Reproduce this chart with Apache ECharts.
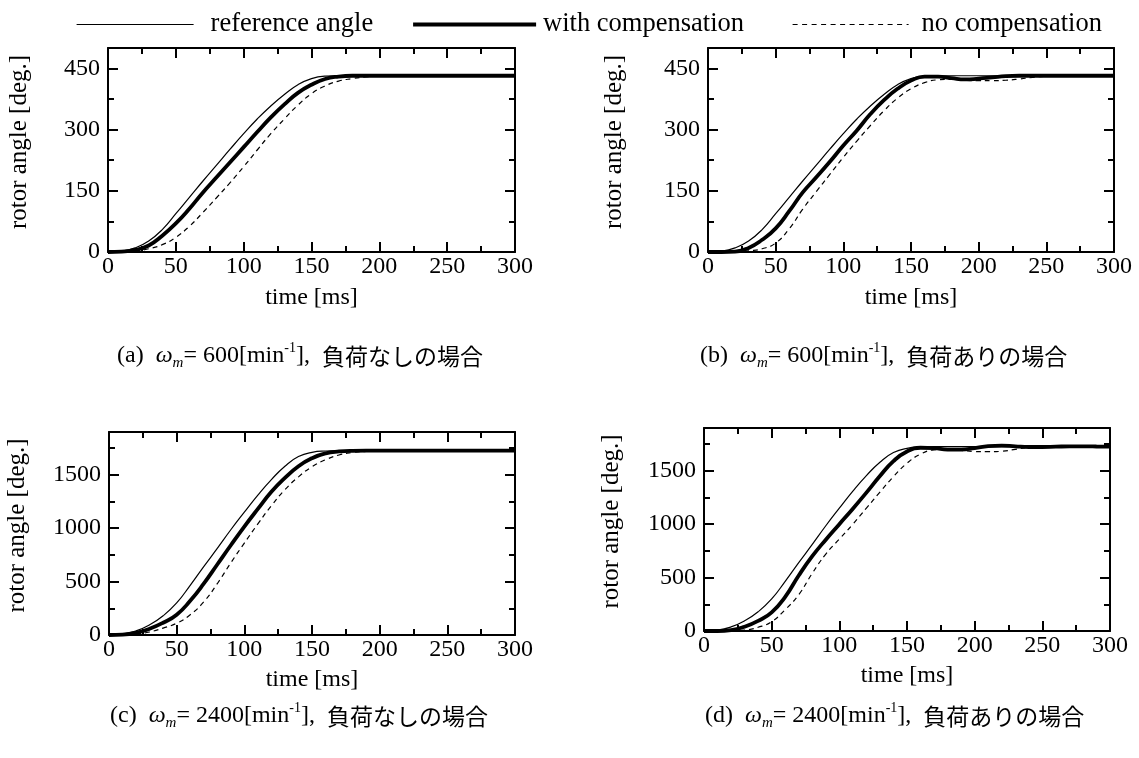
<!DOCTYPE html>
<html>
<head>
<meta charset="utf-8">
<script src="https://cdn.jsdelivr.net/npm/echarts@6/dist/echarts.min.js"></script>
<style>
  html, body { margin: 0; padding: 0; background: #fff; }
  #chart { width: 1139px; height: 758px; }
</style>
</head>
<body>
<div id="chart"></div>
<script>
// time axis (ms)
const timeMs = [0, 10, 20, 30, 40, 50, 60, 70, 80, 90, 100, 110, 120, 130, 140, 150,
  160, 170, 180, 190, 200, 210, 220, 230, 240, 250, 260, 270, 280, 290, 300];

// 600 min^-1 : reference angle (same in a and b)
const ref600 = [0, 2, 10, 27, 55, 94, 134, 174, 213, 252, 290, 326, 358, 386, 410, 425,
  431, 432, 432, 432, 432, 432, 432, 432, 432, 432, 432, 432, 432, 432, 432];
// (a) no load
const with600 = [0, 1, 5, 16, 40, 70, 106, 146, 183, 220, 257, 294, 330, 362, 390, 410,
  424, 430, 432, 432, 432, 432, 432, 432, 432, 432, 432, 432, 432, 432, 432];
const no600 = [0, 0, 2, 8, 18, 36, 63, 97, 133, 170, 209, 250, 290, 326, 360, 388,
  407, 419, 425, 429, 431, 432, 432, 432, 432, 432, 432, 432, 432, 432, 432];
// (b) with load
const with600L = [0, 0, 1, 10, 30, 58, 100, 146, 183, 221, 261, 298, 338, 372, 400, 420,
  430, 430, 426, 423, 425, 428, 431, 432, 432, 432, 432, 432, 432, 432, 432];
const no600L = [0, 0, 0, 3, 8, 22, 57, 105, 148, 190, 232, 272, 310, 346, 377, 400,
  415, 422, 423, 421, 420, 420, 421, 424, 428, 431, 432, 432, 432, 432, 432];

// 2400 min^-1 : reference angle (same in c and d)
const ref2400 = [0, 8, 38, 95, 180, 300, 465, 640, 810, 985, 1150, 1310, 1455, 1580, 1670, 1710,
  1722, 1725, 1725, 1725, 1725, 1725, 1725, 1725, 1725, 1725, 1725, 1725, 1725, 1725, 1725];
// (c) no load
const with2400 = [0, 3, 20, 58, 115, 190, 320, 480, 660, 840, 1015, 1180, 1340, 1470, 1580, 1655,
  1700, 1718, 1724, 1725, 1725, 1725, 1725, 1725, 1725, 1725, 1725, 1725, 1725, 1725, 1725];
const no2400 = [0, 1, 8, 28, 65, 110, 190, 310, 480, 675, 860, 1040, 1210, 1360, 1480, 1575,
  1640, 1685, 1708, 1718, 1722, 1725, 1725, 1725, 1725, 1725, 1725, 1725, 1725, 1725, 1725];
// (d) with load
const with2400L = [0, 0, 8, 40, 95, 175, 320, 520, 700, 855, 1000, 1145, 1295, 1450, 1590, 1680,
  1715, 1712, 1698, 1698, 1712, 1730, 1735, 1728, 1722, 1722, 1725, 1728, 1728, 1727, 1725];
const no2400L = [0, 0, 0, 8, 35, 88, 200, 340, 540, 720, 860, 1000, 1150, 1300, 1445, 1570,
  1655, 1695, 1700, 1690, 1680, 1678, 1682, 1700, 1718, 1725, 1725, 1725, 1725, 1725, 1725];

// tick values
const xMajor = [0, 50, 100, 150, 200, 250, 300];
const yMajor600 = [0, 150, 300, 450];
const yMinor600 = [75, 225, 375];
const yMajor2400 = [0, 500, 1000, 1500];
const yMinor2400 = [250, 750, 1250, 1750];

const seriesNames = ["reference angle", "with compensation", "no compensation"];
const captions = [
  ["(a)", "600", "負荷なしの場合"],
  ["(b)", "600", "負荷ありの場合"],
  ["(c)", "2400", "負荷なしの場合"],
  ["(d)", "2400", "負荷ありの場合"],
];

const SERIF = "Liberation Serif";
const JP = "Noto Sans CJK JP";
const FS = 24;
const black = "#000";

// line look of each series (also used by the legends)
const looks = [
  { width: 1.2, type: "solid" },
  { width: 3.8, type: "solid" },
  { width: 1.2, type: [5, 4] },
];

const panels = [
  { grid: { left: 108, top: 48, width: 407, height: 204 }, yMax: 500, major: yMajor600, minor: yMinor600,
    yGap: 76, xGap: 34, ref: ref600, withC: with600, noC: no600, cap: { left: 117, top: 341 } },
  { grid: { left: 708, top: 48, width: 406, height: 204 }, yMax: 500, major: yMajor600, minor: yMinor600,
    yGap: 81, xGap: 34, ref: ref600, withC: with600L, noC: no600L, cap: { left: 700, top: 341 } },
  { grid: { left: 109, top: 432, width: 406, height: 203 }, yMax: 1900, major: yMajor2400, minor: yMinor2400,
    yGap: 79, xGap: 33, ref: ref2400, withC: with2400, noC: no2400, cap: { left: 110, top: 701 } },
  { grid: { left: 704, top: 428, width: 406, height: 203 }, yMax: 1900, major: yMajor2400, minor: yMinor2400,
    yGap: 80, xGap: 33, ref: ref2400, withC: with2400L, noC: no2400L, cap: { left: 705, top: 701 } },
];

const frame = { show: true, onZero: false, lineStyle: { color: black, width: 2 } };
const plain = (v) => String(v);

function pts(vals) {
  return vals.map((v, i) => [timeMs[i], v]);
}

const grids = [], xAxes = [], yAxes = [], series = [], titles = [];

panels.forEach((p, gi) => {
  grids.push(p.grid);

  // bottom + top x axes
  ["bottom", "top"].forEach((pos) => {
    xAxes.push({
      gridIndex: gi, type: "value", position: pos, min: 0, max: 300, interval: 50,
      axisLine: frame,
      axisTick: { show: true, inside: true, length: 10, lineStyle: { color: black, width: 2 } },
      minorTick: { show: true, splitNumber: 2, length: 6, lineStyle: { color: black, width: 2 } },
      splitLine: { show: false },
      axisLabel: pos === "bottom"
        ? { show: true, color: black, fontFamily: SERIF, fontSize: FS, margin: 3, customValues: xMajor, formatter: plain }
        : { show: false },
      name: pos === "bottom" ? "time [ms]" : "",
      nameLocation: "middle", nameGap: p.xGap,
      nameTextStyle: { color: black, fontFamily: SERIF, fontSize: FS },
    });
  });

  // y axes: left major (labels), left minor, right major, right minor
  const yBase = yAxes.length;
  ["left", "right"].forEach((pos) => {
    yAxes.push({
      gridIndex: gi, type: "value", position: pos, min: 0, max: p.yMax,
      axisLine: frame,
      axisTick: { show: true, inside: true, length: 10, customValues: p.major, lineStyle: { color: black, width: 2 } },
      splitLine: { show: false },
      axisLabel: pos === "left"
        ? { show: true, color: black, fontFamily: SERIF, fontSize: FS, margin: 8, customValues: p.major, formatter: plain }
        : { show: false },
      name: pos === "left" ? "rotor angle [deg.]" : "",
      nameLocation: "middle", nameGap: p.yGap,
      nameTextStyle: { color: black, fontFamily: SERIF, fontSize: 25, padding: [0, 0, 0, 16] },
    });
    yAxes.push({
      gridIndex: gi, type: "value", position: pos, min: 0, max: p.yMax,
      axisLine: { show: false, onZero: false },
      axisTick: { show: true, inside: true, length: 6, customValues: p.minor, lineStyle: { color: black, width: 2 } },
      splitLine: { show: false },
      axisLabel: { show: false },
    });
  });

  const common = { type: "line", xAxisIndex: gi * 2, yAxisIndex: yBase, symbol: "none",
    smooth: true, silent: true, animation: false };
  series.push({ ...common, name: seriesNames[0], data: pts(p.ref),
    lineStyle: { color: black, ...looks[0] } });
  series.push({ ...common, name: seriesNames[2], data: pts(p.noC),
    lineStyle: { color: black, ...looks[2] } });
  series.push({ ...common, name: seriesNames[1], data: pts(p.withC),
    lineStyle: { color: black, ...looks[1] } });

  const c = captions[gi];
  const base = { fontFamily: SERIF, fontSize: FS, fontWeight: "normal", color: black, lineHeight: 30 };
  titles.push({
    left: p.cap.left, top: p.cap.top, padding: 0,
    text: "{n|" + c[0] + "  }{i|ω}{sub|m}{n|= " + c[1] + "[min}{sup|-1}{n|],  }{j|" + c[2] + "}",
    textStyle: {
      fontWeight: "normal",
      rich: {
        n: base,
        i: { ...base, fontStyle: "italic" },
        sub: { ...base, fontSize: 15, fontStyle: "italic", lineHeight: 10, verticalAlign: "bottom" },
        sup: { ...base, fontSize: 14, lineHeight: 14, verticalAlign: "top" },
        j: { ...base, fontFamily: JP, fontSize: 23 },
      },
    },
  });
});

// three legend blocks, placed like the original key
const legendLeft = [76, 411, 792];
const legendIconW = [117, 123, 116];
const legendTextPad = [12, 2, 8];
const legends = seriesNames.map((nm, k) => ({
  top: 11, left: legendLeft[k], itemWidth: legendIconW[k], itemHeight: 14, padding: 0,
  data: [nm],
  selectedMode: false,
  itemStyle: { opacity: 0 },
  lineStyle: { color: black, width: k === 1 ? 4.2 : 1.2, type: k === 2 ? [5, 4.5] : "solid" },
  textStyle: { color: black, fontFamily: SERIF, fontSize: 26.5, padding: [0, 0, 0, legendTextPad[k]] },
}));

const chart = echarts.init(document.getElementById("chart"), null, { renderer: "canvas" });
chart.setOption({
  backgroundColor: "#fff",
  animation: false,
  title: titles,
  legend: legends,
  grid: grids,
  xAxis: xAxes,
  yAxis: yAxes,
  series: series,
});
</script>
</body>
</html>
